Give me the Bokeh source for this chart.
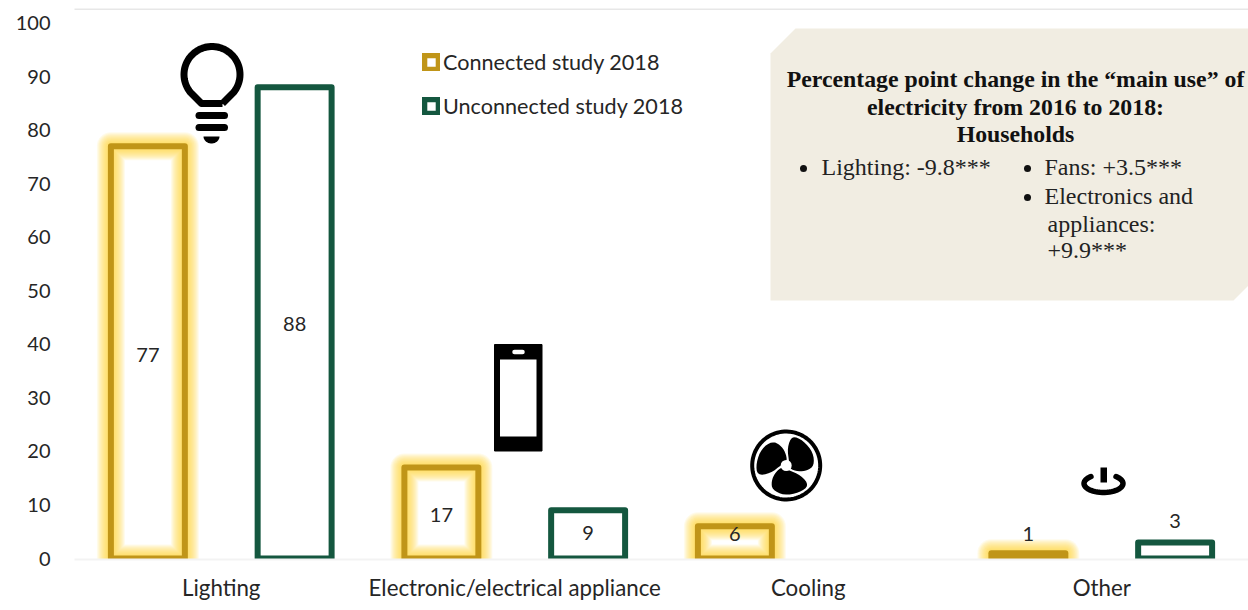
import numpy as np
from bokeh.embed import file_html
from bokeh.resources import INLINE
from bokeh.core.properties import value
from bokeh.models import (Arrow, ColumnDataSource, FixedTicker, Legend,
                          LegendItem, Range1d)
from bokeh.plotting import figure

# Survey results
categories = ["Lighting", "Electronic/electrical appliance", "Cooling", "Other"]
connected = [77, 17, 6, 1]
unconnected = [88, 9, None, 3]
y_ticks = [0, 10, 20, 30, 40, 50, 60, 70, 80, 90, 100]

# Heights at which the value labels sit
connected_label_y = [38, 8.2, 4.6, 4.6]
unconnected_label_y = [43.8, 4.7, None, 7]

box_title = ["Percentage point change in the \u201cmain use\u201d of",
             "electricity from 2016 to 2018:", "Households"]

GOLD = "#C09518"
GREEN = "#14573F"
GLOW = "#FFD83A"
INK = "#262626"
SANS = "Lato"
SERIF = "Liberation Serif"

LEFT, RIGHT, TOP, BOTTOM = 74, 1248, 8, 559
PX_PER_UNIT = 5.355
slots = np.arange(len(categories))

p = figure(width=1248, height=610, output_backend="svg", toolbar_location=None,
           x_range=Range1d(-0.5, len(categories) - 0.5),
           y_range=Range1d(-(BOTTOM - 558) / PX_PER_UNIT, (558 - TOP) / PX_PER_UNIT),
           min_border_left=LEFT, min_border_right=0, min_border_top=TOP,
           min_border_bottom=610 - BOTTOM, outline_line_color=None,
           background_fill_color="white", border_fill_color="white")
# Pixel-based ranges for the pictograms and the annotation panel
p.extra_x_ranges["px"] = Range1d(LEFT, RIGHT)
p.extra_y_ranges["px"] = Range1d(BOTTOM, TOP)
PX = dict(x_range_name="px", y_range_name="px")

p.grid.visible = False
p.yaxis.ticker = FixedTicker(ticks=y_ticks)
p.yaxis.axis_line_color = None
p.yaxis.major_tick_line_color = None
p.yaxis.minor_tick_line_color = None
p.yaxis.major_label_text_font = SANS
p.yaxis.major_label_text_font_size = "20px"
p.yaxis.major_label_text_color = INK
p.yaxis.major_label_standoff = 18
p.xaxis.ticker = FixedTicker(ticks=slots.tolist())
p.xaxis.major_label_overrides = {int(i): c for i, c in zip(slots, categories)}
p.xaxis.axis_line_color = "#F3F3F3"
p.xaxis.axis_line_width = 2
p.xaxis.major_tick_line_color = None
p.xaxis.minor_tick_line_color = None
p.xaxis.major_label_text_font = SANS
p.xaxis.major_label_text_font_size = "22.3px"
p.xaxis.major_label_text_color = INK
p.xaxis.major_label_standoff = 8

# Hairline along the top of the chart area
p.add_layout(Arrow(end=None, x_start=11, x_end=1248, y_start=8.5, y_end=8.5,
                   x_range_name="px", y_range_name="px", line_color="#CFCFCF", line_width=1))

source = ColumnDataSource(dict(conn_x=slots - 0.25, unconn_x=slots + 0.25,
                               connected=connected,
                               unconnected=[np.nan if v is None else v for v in unconnected],
                               conn_y=connected_label_y,
                               unconn_y=[np.nan if v is None else v for v in unconnected_label_y],
                               conn_txt=[str(v) for v in connected],
                               unconn_txt=["" if v is None else str(v) for v in unconnected]))

# Panel behind the summary text
p.patch([770, 795, 1248, 1248, 1233, 770], [53, 28, 28, 285, 300, 300],
        fill_color="#F1EDE2", line_color=None, **PX)

# Soft halo around the connected bars, built from stacked translucent strokes
for w in range(28, 6, -2):
    p.vbar(x="conn_x", top="connected", bottom=0, width=0.252, source=source, fill_color=None,
           line_color=GLOW, line_width=w, line_alpha=0.1, line_join="round")

conn_bar = p.vbar(x="conn_x", top="connected", bottom=0, width=0.252, source=source,
                  fill_color=None, line_color=GOLD, line_width=6, line_join="round")
unconn_bar = p.vbar(x="unconn_x", top="unconnected", bottom=0, width=0.252, source=source,
                    fill_color=None, line_color=GREEN, line_width=6, line_join="round")

for xs, ys, txt in (("conn_x", "conn_y", "conn_txt"), ("unconn_x", "unconn_y", "unconn_txt")):
    p.text(x=xs, y=ys, text=txt, source=source, text_font=value(SANS), text_font_size="20px",
           text_color=INK, text_align="center", text_baseline="middle")

legend = Legend(items=[LegendItem(label="Connected study 2018", renderers=[conn_bar]),
                       LegendItem(label="Unconnected study 2018", renderers=[unconn_bar])],
                location=(348, 440), background_fill_alpha=0, border_line_color=None,
                glyph_width=18, glyph_height=18, label_standoff=3, spacing=18, padding=0,
                margin=0, label_text_font=SANS, label_text_font_size="21.6px",
                label_text_color=INK)
p.add_layout(legend)

# Light bulb
theta = np.radians(np.linspace(140, 400, 60))
bulb_x = 211.5 + 28 * np.cos(theta)
bulb_y = 74 + 28 * np.sin(theta)
p.line(np.r_[222, bulb_x[::-1], 201, 222], np.r_[103, bulb_y[::-1], 103, 103], line_color="black",
       line_width=7, line_join="round", **PX)
p.multi_line([[198.5, 224], [198.5, 224]], [[115, 115], [127, 127]], line_color="black",
             line_width=7, line_cap="round", **PX)
cap = np.radians(np.linspace(0, 180, 20))
p.patch(211 + 8 * np.cos(cap), 136 + 7 * np.sin(cap), fill_color="black", line_color=None, **PX)

# Phone
p.quad(left=[494], right=[541.5], top=[344], bottom=[450.5], fill_color="black",
       line_color="black", line_width=1, line_join="round", **PX)
p.quad(left=[499.5], right=[536], top=[359], bottom=[436], fill_color="white", line_color=None, **PX)
p.line([514, 522], [351.5, 351.5], line_color="white", line_width=4.5, line_cap="round", **PX)


def smooth(pts, rounds=2):
    # Corner cutting, so the fan blades have rounded outlines
    for _ in range(rounds):
        nxt = np.roll(pts, -1, axis=0)
        cut = np.empty((2 * len(pts), 2))
        cut[0::2] = 0.75 * pts + 0.25 * nxt
        cut[1::2] = 0.25 * pts + 0.75 * nxt
        pts = cut
    return pts


# Fan
fan_cx, fan_cy = 785.7, 465
ring = np.radians(np.linspace(0, 360, 90))
p.line(fan_cx + 34 * np.cos(ring), fan_cy + 34 * np.sin(ring), line_color="black", line_width=4, **PX)
blade = smooth(np.array([[3, -3], [1, -18], [6, -30], [17, -25], [27, -13], [28, 0], [21, 5],
                         [12, 6], [3, 3]], dtype=float))
for deg in (0, 120, 240):
    a = np.radians(deg)
    p.patch(fan_cx + blade[:, 0] * np.cos(a) - blade[:, 1] * np.sin(a),
            fan_cy + blade[:, 0] * np.sin(a) + blade[:, 1] * np.cos(a),
            fill_color="black", line_color=None, **PX)
p.scatter([fan_cx], [fan_cy], size=11, marker="circle", fill_color="white", line_color=None, **PX)

# Power symbol
arc = np.radians(np.linspace(-50, 230, 40))
p.line(1103 + 19.5 * np.cos(arc), 483 + 9 * np.sin(arc), line_color="black", line_width=5.5,
       line_cap="round", **PX)
p.quad(left=[1100], right=[1106.5], top=[467], bottom=[482], fill_color="black", line_color=None, **PX)

# Summary text on the panel
p.text([1015, 1015, 1015], [78.5, 106.5, 133.5], text=box_title, text_font=value(SERIF),
       text_font_style="bold", text_font_size="23.8px", text_color="#111111", text_align="center",
       text_baseline="middle", **PX)
p.text([821, 1044, 1044, 1047, 1047], [166, 166, 195, 223, 249],
       text=["Lighting: -9.8***", "Fans: +3.5***", "Electronics and", "appliances:", "+9.9***"],
       text_font=value(SERIF), text_font_size="24px", text_color="#222222", text_align="left",
       text_baseline="middle", **PX)
p.scatter([803, 1027, 1027], [168, 168, 197], size=7, marker="circle", fill_color="#111111",
          line_color=None, **PX)

open("out.html", "w").write(file_html(p, INLINE))
